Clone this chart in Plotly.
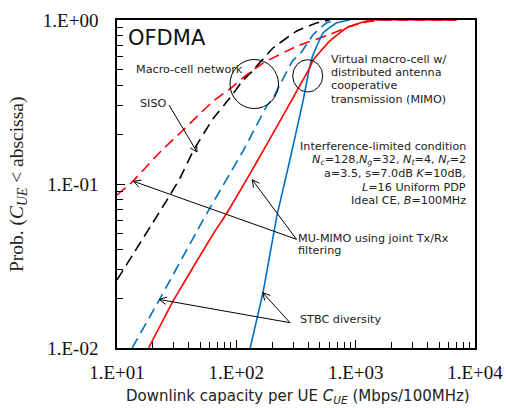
import plotly.graph_objects as go
import math

# ---- data ----
siso_macro_x = [10, 26.2, 33.6, 43.9, 64, 88.3, 114, 129.7, 203, 319, 469, 603]
siso_macro_y = [0.026, 0.0798, 0.108, 0.161, 0.251, 0.334, 0.43, 0.47, 0.675, 0.853, 0.959, 1.0]

mumimo_macro_x = [10, 13.4, 23.8, 33.6, 64, 88.3, 121.6, 167.5, 319, 603, 891, 1230, 1600, 7000]
mumimo_macro_y = [0.0857, 0.103, 0.161, 0.204, 0.32, 0.38, 0.462, 0.547, 0.691, 0.814, 0.915, 0.972, 1.0, 1.0]

stbc_macro_x = [13.4, 23.0, 56.6, 115, 178.6, 203, 231, 299, 340, 440, 569, 700]
stbc_macro_y = [0.01, 0.0201, 0.0663, 0.161, 0.296, 0.334, 0.401, 0.57, 0.615, 0.814, 0.959, 1.0]

mumimo_virtual_x = [18.4, 29.8, 64.4, 83.2, 130.6, 169, 281, 319, 412, 440, 603, 836, 1151, 1400, 7000]
mumimo_virtual_y = [0.01, 0.0196, 0.050, 0.0663, 0.116, 0.161, 0.31, 0.366, 0.51, 0.57, 0.741, 0.894, 0.972, 1.0, 1.0]

stbc_virtual_x = [130.6, 169, 218, 281, 362, 412, 440, 533, 689, 890]
stbc_virtual_y = [0.01, 0.0226, 0.0632, 0.140, 0.32, 0.519, 0.615, 0.833, 0.959, 1.0]

x_tickvals = [10, 100, 1000, 10000]
x_ticktext = ["1.E+01", "1.E+02", "1.E+03", "1.E+04"]
y_tickvals = [0.01, 0.1, 1]
y_ticktext = ["1.E-02", "1.E-01", "1.E+00"]

RED = "#ff0000"
BLUE = "#0070c0"
BLACK = "#000000"
DASH = "11px,6px"

fig = go.Figure()
series = [
    (siso_macro_x, siso_macro_y, BLACK, DASH, "SISO macro-cell"),
    (stbc_macro_x, stbc_macro_y, BLUE, DASH, "STBC macro-cell"),
    (mumimo_macro_x, mumimo_macro_y, RED, DASH, "MU-MIMO macro-cell"),
    (stbc_virtual_x, stbc_virtual_y, BLUE, "solid", "STBC virtual"),
    (mumimo_virtual_x, mumimo_virtual_y, RED, "solid", "MU-MIMO virtual"),
]
for xs, ys, c, d, n in series:
    fig.add_trace(go.Scatter(x=xs, y=ys, mode="lines", name=n,
                             line=dict(color=c, dash=d, width=1.6, shape="spline", smoothing=0.3)))

SANS = "DejaVu Sans"
SERIF = "Liberation Serif"
txt = dict(family=SANS, size=11.2, color="#222")
XR, YR = "x domain", "y domain"

# domain coords: plot area x 117..475, y 20..348 (pixels)
L, R, T, B = 117, 475, 20, 348
def px(x):
    return (x - L) / (R - L)
def py(y):
    return (B - y) / (B - T)

ann = []
def a(x, y, text, xanchor="center", **kw):
    d = dict(x=px(x), y=py(y), xref=XR, yref=YR, text=text, showarrow=False, font=txt,
             xanchor=xanchor, yanchor="middle")
    d.update(kw)
    ann.append(d)

a(126, 38, "OFDMA", xanchor="left", font=dict(family=SANS, size=21, color="#111"))
a(134, 69, "Macro-cell network", xanchor="left")
a(138, 103, "SISO", xanchor="left")
for yy, t in zip([59.3, 72.3, 85.7, 99], ["Virtual macro-cell w/", "distributed antenna",
                                          "cooperative", "transmission (MIMO)"]):
    a(328.5, yy, t, xanchor="left")
interf = [
    "Interference-limited condition",
    "<i>N</i><sub><i>c</i></sub>=128,<i>N</i><sub><i>g</i></sub>=32, <i>N</i><sub><i>t</i></sub>=4, <i>N</i><sub><i>r</i></sub>=2",
    "a=3.5, s=7.0dB <i>K</i>=10dB,",
    "<i>L</i>=16 Uniform PDP",
    "Ideal CE, <i>B</i>=100MHz",
]
for yy, t in zip([146, 159.6, 173.3, 187, 201], interf):
    a(468, yy, t, xanchor="right")
a(296, 238.3, "MU-MIMO using joint Tx/Rx", xanchor="left")
a(296, 250.7, "filtering", xanchor="left")
a(297.5, 319.3, "STBC diversity", xanchor="left")

# axis titles
a(298.3, 396.7, "Downlink capacity per UE <i>C</i><sub><i>UE</i></sub> (Mbps/100MHz)",
  font=dict(family=SANS, size=15, color="#222"))
a(18, 185, "Prob. (<i>C</i><sub><i>UE</i></sub> &lt; abscissa)", textangle=-90,
  font=dict(family=SERIF, size=19.5, color="#222"))

# arrows drawn as lines with open V heads (pixel coords, tail -> head)
shapes = []
def seg(x0, y0, x1, y1):
    shapes.append(dict(type="line", xref=XR, yref=YR, x0=px(x0), y0=py(y0), x1=px(x1), y1=py(y1),
                       line=dict(color="#000", width=1)))
def arrow(x0, y0, x1, y1, head=8, ang=28):
    seg(x0, y0, x1, y1)
    th = math.atan2(y0 - y1, x0 - x1)
    for s in (-1, 1):
        t = th + s * math.radians(ang)
        seg(x1, y1, x1 + head * math.cos(t), y1 + head * math.sin(t))

arrow(169, 105, 197, 152)
arrow(296.5, 239.3, 133.5, 181.3)
arrow(296.5, 239.3, 252.3, 179.8)
arrow(290, 322.7, 159.5, 299.5)
arrow(290, 322.7, 262.7, 292.7)

shapes += [
    dict(type="circle", xref=XR, yref=YR,
         x0=px(230), x1=px(278.5), y0=py(108.5), y1=py(59.5), line=dict(color="#000", width=1)),
    dict(type="circle", xref=XR, yref=YR,
         x0=px(292.7), x1=px(322.7), y0=py(92), y1=py(59.7), line=dict(color="#000", width=1)),
]

axis_common = dict(showgrid=False, zeroline=False, showline=True, linecolor="#000", linewidth=1.5,
                   mirror=True, ticks="inside", ticklen=8, tickcolor="#000", tickwidth=1,
                   automargin=False,
                   tickfont=dict(family=SERIF, size=19, color="#111"),
                   minor=dict(ticks="inside", ticklen=6, tickcolor="#000", dtick="D1", showgrid=False))

fig.update_layout(
    width=506, height=408,
    margin=dict(l=L, r=506 - R, t=T, b=408 - B, autoexpand=False),
    paper_bgcolor="white", plot_bgcolor="white",
    showlegend=False,
    annotations=ann, shapes=shapes,
    xaxis=dict(type="log", range=[1, 4], tickvals=x_tickvals, ticktext=x_ticktext,
               ticklabelstandoff=6, **axis_common),
    yaxis=dict(type="log", range=[-2, 0], tickvals=y_tickvals, ticktext=y_ticktext,
               ticklabelstandoff=13, **axis_common),
)

fig.write_html("out.html", config={"displayModeBar": False},
               post_script="document.body.style.margin='0';document.body.style.padding='0';")
